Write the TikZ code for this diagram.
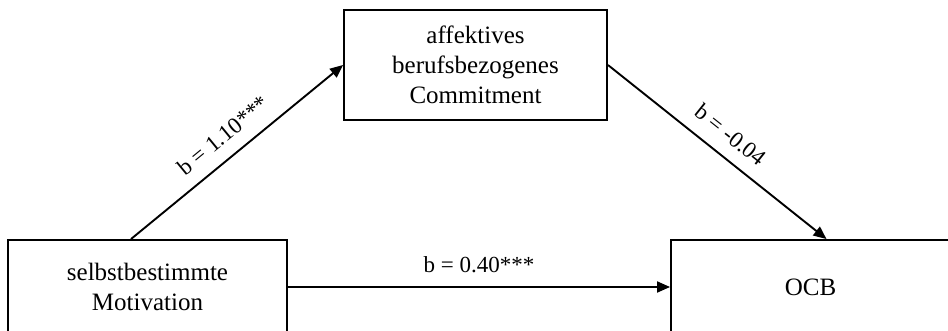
\documentclass[tikz,border=0pt]{standalone}
\usepackage{fontspec}
\setmainfont{Liberation Serif}
\usetikzlibrary{arrows.meta,calc}
\begin{document}
\begin{tikzpicture}[x=1pt,y=-1pt,
  box/.style={draw=black, line width=1.9pt, align=center, font=\fontsize{25}{30}\selectfont, inner sep=0pt},
  conn/.style={line width=1.9pt, -{Triangle[length=13pt,width=11pt]}},
  lbl/.style={font=\fontsize{23}{27}\selectfont, midway, above=9.5pt}]
\useasboundingbox (0,0) rectangle (948,331);
\clip (0,0) rectangle (948,331);
\node[box, minimum width=263pt, minimum height=110pt] (akc) at (475.5,65) {affektives\\berufsbezogenes\\Commitment};
\node[box, minimum width=279pt, minimum height=94pt] (sbm) at (147.5,287) {selbstbestimmte\\Motivation};
\node[box, minimum width=279pt, minimum height=94pt] (ocb) at (810.5,287) {OCB};
\draw[conn] ($(sbm.north)+(-16.5,0)$) -- node[lbl, sloped]{b = 1.10***} (akc.west);
\draw[conn] (akc.east) -- node[lbl, sloped]{b = -0.04} ($(ocb.north)+(16,0)$);
\draw[conn] (sbm.east) -- node[lbl]{b = 0.40***} (ocb.west);
\end{tikzpicture}
\end{document}
